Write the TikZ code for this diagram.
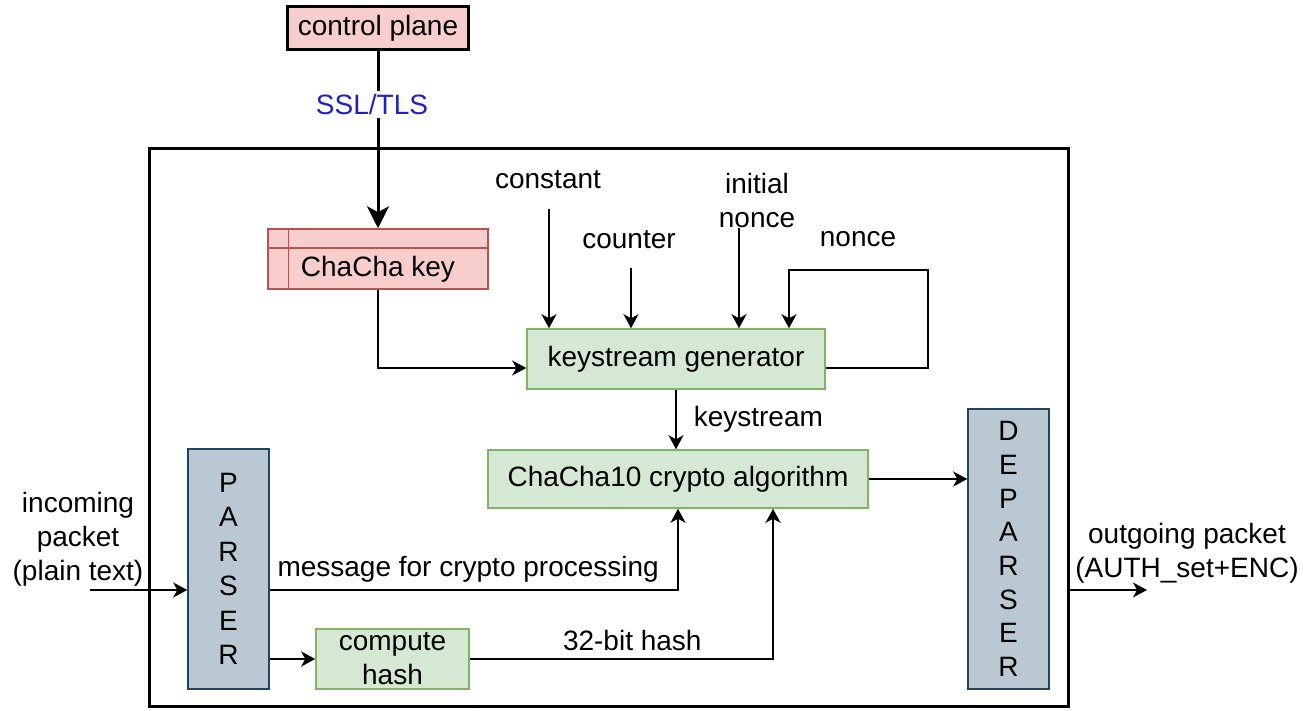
\documentclass[tikz,border=0pt]{standalone}
\usepackage{fontspec}
\setmainfont{Liberation Sans}
\usetikzlibrary{arrows.meta}
\definecolor{keyfill}{HTML}{F8CECC}
\definecolor{keyline}{HTML}{B85450}
\definecolor{genfill}{HTML}{D5E8D4}
\definecolor{genline}{HTML}{82B366}
\definecolor{parsefill}{HTML}{BAC8D3}
\definecolor{parseline}{HTML}{23445D}
\definecolor{sslblue}{HTML}{2020C8}
\begin{document}
\begin{tikzpicture}[x=1pt,y=-1pt,
    every node/.style={font=\fontsize{28}{34}\selectfont, inner sep=0pt},
    arr/.style={-{Stealth[length=14pt,width=15pt,inset=4pt]}, line width=1.5pt},
    thickarr/.style={-{Stealth[length=22pt,width=22pt,inset=6pt]}, line width=3pt},
    redbox/.style={draw=keyline, fill=keyfill, line width=1.5pt},
    greenbox/.style={draw=genline, fill=genfill, line width=1.5pt, align=center},
    slatebox/.style={draw=parseline, fill=parsefill, line width=1.5pt, align=center}]
  \useasboundingbox (0,0) rectangle (1303,711);
  % frame and blocks
  \node[draw, line width=3pt, minimum width=919pt, minimum height=557pt] (outer) at (608.5,427.5) {};
  \node[draw, fill=keyfill, line width=3pt, minimum width=181pt, minimum height=43pt] (cp) at (378,28.5) {control plane};
  \node[redbox, minimum width=220pt, minimum height=60pt] (key) at (378,259) {};
  \draw[keyline, line width=1.5pt] ([yshift=-20pt]key.north west) -- ([yshift=-20pt]key.north east);
  \draw[keyline, line width=1.5pt] ([xshift=21pt]key.north west) -- ([xshift=21pt]key.south west);
  \node (keytext) at (378,269) {ChaCha key};
  \node[greenbox, minimum width=298pt, minimum height=60pt] (ksg) at (676,359) {keystream generator};
  \node[greenbox, minimum width=380pt, minimum height=58pt] (crypto) at (678,479) {ChaCha10 crypto algorithm};
  \node[greenbox, minimum width=153pt, minimum height=60pt] (hash) at (392.5,659) {compute\\hash};
  \node[slatebox, minimum width=81pt, minimum height=240pt, font=\fontsize{28}{34.5}\selectfont] (parser) at (228.5,569) {P\\A\\R\\S\\E\\R};
  \node[slatebox, minimum width=81pt, minimum height=280pt, font=\fontsize{28}{33.7}\selectfont] (deparser) at (1008.5,549) {D\\E\\P\\A\\R\\S\\E\\R};
  % free texts
  \node (const) at (548,180) {constant};
  \node (ctr) at (629,240) {counter};
  \node[align=center] (inonce) at (757,200) {initial\\nonce};
  \node (nonce) at (858,239) {nonce};
  \node[align=center] (inc) at (78,539.5) {incoming\\packet\\(plain text)};
  \node[align=center] (outg) at (1187,553.5) {outgoing packet\\(AUTH\_set+ENC)};
  \coordinate (constsrc) at (549,209);
  \coordinate (ctrsrc) at (631,268);
  \coordinate (inoncesrc) at (739,228);
  \coordinate (nloop) at (928,270);
  \coordinate (insrc) at (90,590);
  \coordinate (outend) at (1147,590);
  % connectors
  \draw[thickarr] (cp.south) -- (key.north)
    node[pos=0.3, fill=white, inner sep=3pt, text=sslblue, xshift=-6pt] {SSL/TLS};
  \draw[arr] (key.south) |- ([yshift=-9pt]ksg.west);
  \draw[arr] (constsrc) -- (constsrc |- ksg.north);
  \draw[arr] (ctrsrc) -- (ctrsrc |- ksg.north);
  \draw[arr] (inoncesrc) -- (inoncesrc |- ksg.north);
  \draw[arr] ([yshift=-9pt]ksg.east) -| (nloop) -| ([xshift=113pt]ksg.north);
  \draw[arr] (ksg.south) -- (ksg.south |- crypto.north)
    node[midway, anchor=west, xshift=17pt] {keystream};
  \draw[arr] (insrc) -- (insrc -| parser.west);
  \draw[arr] ([yshift=-21pt]parser.east) -| (crypto.south)
    node[pos=0.243, anchor=south, yshift=7pt] {message for crypto processing};
  \draw[arr] (parser.east |- hash.west) -- (hash.west);
  \draw[arr] (hash.east) -| ([xshift=95pt]crypto.south)
    node[pos=0.268, anchor=south, yshift=7pt] {32-bit hash};
  \draw[arr] (crypto.east) -- (crypto.east -| deparser.west);
  \draw[arr] (outend -| outer.east) -- (outend);
\end{tikzpicture}
\end{document}
